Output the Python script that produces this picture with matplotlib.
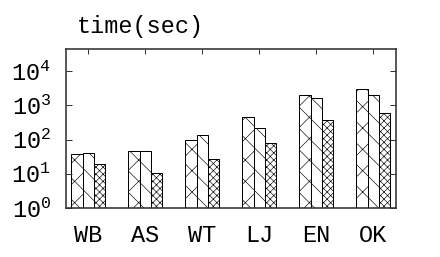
import matplotlib
matplotlib.use("Agg")
import matplotlib.pyplot as plt
import numpy as np

# data (seconds, log scale)
datasets = ["WB", "AS", "WT", "LJ", "EN", "OK"]
method_a = [37, 48, 96, 470, 2000, 3000]
method_b = [42, 48, 137, 225, 1700, 2050]
method_c = [19, 10.3, 28, 80, 385, 600]

DPI = 64
PT = 72.0 / DPI  # points per pixel

plt.rcParams["font.family"] = ["Liberation Mono", "DejaVu Sans Mono"]
plt.rcParams["mathtext.fontset"] = "custom"
plt.rcParams["mathtext.rm"] = "Liberation Mono"
plt.rcParams["hatch.linewidth"] = 0.7
plt.rcParams["hatch.color"] = "black"

fig = plt.figure(figsize=(440 / DPI, 257 / DPI), dpi=DPI)
ax = fig.add_axes([66 / 440, 1 - 208 / 257, 330 / 440, 159 / 257])

x = np.arange(len(datasets))
w = 0.2
fs = 23.5 * PT
ax.bar(x - w, method_a, w, facecolor="white", edgecolor="black",
       linewidth=1.0 * PT, hatch="x")
ax.bar(x, method_b, w, facecolor="white", edgecolor="black",
       linewidth=1.0 * PT, hatch="\\")
ax.bar(x + w, method_c, w, facecolor="white", edgecolor="black",
       linewidth=1.0 * PT, hatch="xxx")

ax.set_yscale("log")
ax.set_ylim(1, 45000)
ax.set_xlim(-0.39, 5.4)
ax.set_yticks([1, 10, 100, 1000, 10000])

ax.set_xticks(x)
ax.set_xticklabels(datasets, fontsize=fs)
ax.tick_params(axis="x", which="both", direction="in", bottom=False,
               top=True, length=5 * PT, width=1 * PT, pad=16 * PT,
               color="#333333")
ax.tick_params(axis="y", which="major", direction="in", left=True,
               right=True, length=6 * PT, width=1 * PT, pad=15 * PT,
               labelsize=fs, color="#333333")
ax.tick_params(axis="y", which="minor", direction="in", left=True,
               right=True, length=3 * PT, width=0.8 * PT, color="#333333")
for sp in ax.spines.values():
    sp.set_linewidth(1.6 * PT)
    sp.set_color("#333333")

fig.text(77 / 440, 1 - 27 / 257, "time(sec)", fontsize=fs,
         ha="left", va="center")

fig.savefig("out.png", dpi=DPI)
